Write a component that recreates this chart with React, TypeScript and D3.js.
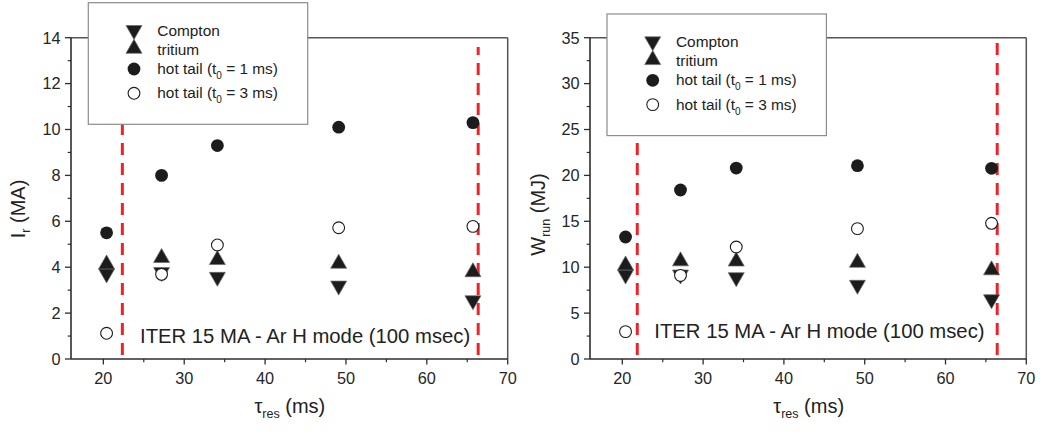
import React from "react";
import * as d3 from "d3";

// Resonance times (ms) at which the simulations were run
const tauRes = [20.4, 27.2, 34.1, 49.1, 65.7];

// Runaway current I_r (MA)
const currentCompton = [3.62, 3.68, 3.47, 3.09, 2.45];
const currentTritium = [4.23, 4.51, 4.42, 4.26, 3.89];
const currentHotTail1 = [5.5, 8.0, 9.3, 10.1, 10.3];
const currentHotTail3 = [1.12, 3.69, 4.97, 5.72, 5.78];

// Runaway energy W_run (MJ)
const energyCompton = [8.93, 8.93, 8.64, 7.81, 6.24];
const energyTritium = [10.46, 10.91, 10.89, 10.75, 9.93];
const energyHotTail1 = [13.29, 18.41, 20.8, 21.06, 20.77];
const energyHotTail3 = [2.98, 9.11, 12.2, 14.2, 14.78];

// Vertical limit markers (tau_res, ms)
const currentLimits = [22.35, 66.35];
const energyLimits = [21.85, 66.4];

// Axis ticks
const xDomain = [16, 70];
const xTicks = [20, 30, 40, 50, 60, 70];
const xMinorTicks = [25, 35, 45, 55, 65];
const currentTicks = [0, 2, 4, 6, 8, 10, 12, 14];
const currentMinorTicks = [1, 3, 5, 7, 9, 11, 13];
const energyTicks = [0, 5, 10, 15, 20, 25, 30, 35];
const energyMinorTicks = [2.5, 7.5, 12.5, 17.5, 22.5, 27.5, 32.5];

// Legend entries
const legendKinds = ["down", "up", "filled", "open"];
const legendMain = ["Compton", "tritium", "hot tail (t", "hot tail (t"];
const legendSub = ["", "", "0", "0"];
const legendTail = ["", "", " = 1 ms)", " = 3 ms)"];

const noteText = "ITER 15 MA - Ar H mode (100 msec)";

const FONT = "'Liberation Sans', Arial, Helvetica, sans-serif";
const INK = "#1c1c1c";
const RED = "#ee2229";

const TRI_W = 16;
const TRI_H = 14;
const CIRC_R = 6.4;

function triPath(cx: number, cy: number, up: boolean) {
  const p = d3.path();
  const h = TRI_H / 2;
  const w = TRI_W / 2;
  if (up) {
    p.moveTo(cx, cy - h);
    p.lineTo(cx + w, cy + h);
    p.lineTo(cx - w, cy + h);
  } else {
    p.moveTo(cx, cy + h);
    p.lineTo(cx + w, cy - h);
    p.lineTo(cx - w, cy - h);
  }
  p.closePath();
  return p.toString();
}

function Marker({ kind, cx, cy }: { kind: string; cx: number; cy: number }) {
  if (kind === "up" || kind === "down") {
    return <path d={triPath(cx, cy, kind === "up")} fill={INK} stroke="#6a6a6a" strokeWidth={0.7} />;
  }
  if (kind === "filled") return <circle cx={cx} cy={cy} r={CIRC_R} fill={INK} />;
  return <circle cx={cx} cy={cy} r={CIRC_R - 0.5} fill="#fff" stroke={INK} strokeWidth={1.1} />;
}

type PanelProps = {
  x0: number;
  x1: number;
  y0: number;
  y1: number;
  yMax: number;
  yTicks: number[];
  yMinor: number[];
  series: { kind: string; values: number[] }[];
  limits: number[];
  limitTop: number;
  legendX: number;
  legendY: number;
  yTitleMain: string;
  yTitleSub: string;
  yTitleRest: string;
  yTitleX: number;
  yTitleY: number;
  noteX: number;
  noteY: number;
};

function Panel(props: PanelProps) {
  const { x0, x1, y0, y1, yMax } = props;
  const x = d3.scaleLinear().domain(xDomain).range([x0, x1]);
  const y = d3.scaleLinear().domain([0, yMax]).range([y1, y0]);
  const axisColor = "#2e2e2e";
  const legendW = 219.4;
  const legendH = 121.6;
  const rowBase = [33, 52.3, 71.3, 95.6];
  const symY = [29.8, 43.6, 66.3, 90.6];

  return (
    <g fontFamily={FONT}>
      {/* frame: top and right */}
      <line x1={x0} x2={x1} y1={y0} y2={y0} stroke="#555" strokeWidth={1.5} />
      <line x1={x1} x2={x1} y1={y0} y2={y1} stroke="#555" strokeWidth={1.5} />

      {/* limit lines */}
      {props.limits.map((v, i) => (
        <line
          key={"lim" + i}
          x1={x(v)}
          x2={x(v)}
          y1={y(0)}
          y2={y(props.limitTop)}
          stroke={RED}
          strokeWidth={3}
          strokeDasharray="12 8"
          strokeDashoffset={16}
        />
      ))}

      {/* data */}
      {props.series.map((s, si) =>
        s.values.map((v, i) => (
          <Marker key={"m" + si + "-" + i} kind={s.kind} cx={x(tauRes[i])} cy={y(v)} />
        ))
      )}

      {/* bottom axis */}
      <line x1={x0} x2={x1} y1={y1} y2={y1} stroke={axisColor} strokeWidth={1.6} />
      {xTicks.map((t) => (
        <g key={"xt" + t}>
          <line x1={x(t)} x2={x(t)} y1={y1} y2={y1 + 5.5} stroke={axisColor} strokeWidth={1.3} />
          <text x={x(t)} y={y1 + 25} textAnchor="middle" fontSize={16.3} fill="#262626">
            {t}
          </text>
        </g>
      ))}
      {xMinorTicks.map((t) => (
        <line key={"xm" + t} x1={x(t)} x2={x(t)} y1={y1} y2={y1 + 3.2} stroke={axisColor} strokeWidth={1.2} />
      ))}

      {/* left axis */}
      <line x1={x0} x2={x0} y1={y0} y2={y1} stroke={axisColor} strokeWidth={1.6} />
      {props.yTicks.map((t) => (
        <g key={"yt" + t}>
          <line x1={x0 - 6} x2={x0} y1={y(t)} y2={y(t)} stroke={axisColor} strokeWidth={1.3} />
          <text x={x0 - 10.5} y={y(t)} dy="0.36em" textAnchor="end" fontSize={16.3} fill="#262626">
            {t}
          </text>
        </g>
      ))}
      {props.yMinor.map((t) => (
        <line key={"ym" + t} x1={x0 - 3.3} x2={x0} y1={y(t)} y2={y(t)} stroke={axisColor} strokeWidth={1.2} />
      ))}

      {/* axis titles */}
      <text x={(x0 + x1) / 2 + 0.5} y={413} textAnchor="middle" fontSize={20} fill="#222">
        <tspan>τ</tspan>
        <tspan dy={5} fontSize={12.5}>res</tspan>
        <tspan dy={-5}> (ms)</tspan>
      </text>
      <text
        transform={`translate(${props.yTitleX},${props.yTitleY}) rotate(-90)`}
        textAnchor="middle"
        fontSize={20}
        fill="#222"
      >
        <tspan>{props.yTitleMain}</tspan>
        <tspan dy={5} fontSize={12.5}>{props.yTitleSub}</tspan>
        <tspan dy={-5}>{props.yTitleRest}</tspan>
      </text>

      {/* annotation */}
      <text x={props.noteX} y={props.noteY} fontSize={20.3} fill="#222">
        {noteText}
      </text>

      {/* legend */}
      <rect
        x={props.legendX}
        y={props.legendY}
        width={legendW}
        height={legendH}
        fill="#fff"
        stroke="#8c8c8c"
        strokeWidth={1.2}
      />
      {legendKinds.map((k, i) => (
        <g key={"lg" + i}>
          <Marker kind={k} cx={props.legendX + 45.7} cy={props.legendY + symY[i]} />
          <text x={props.legendX + 69} y={props.legendY + rowBase[i]} fontSize={15.4} fill="#222">
            <tspan>{legendMain[i]}</tspan>
            {legendSub[i] ? (
              <>
                <tspan dy={5} fontSize={10}>{legendSub[i]}</tspan>
                <tspan dy={-5}>{legendTail[i]}</tspan>
              </>
            ) : null}
          </text>
        </g>
      ))}
    </g>
  );
}

export default function App() {
  const currentSeries = [
    { kind: "down", values: currentCompton },
    { kind: "up", values: currentTritium },
    { kind: "filled", values: currentHotTail1 },
    { kind: "open", values: currentHotTail3 },
  ];
  const energySeries = [
    { kind: "down", values: energyCompton },
    { kind: "up", values: energyTritium },
    { kind: "filled", values: energyHotTail1 },
    { kind: "open", values: energyHotTail3 },
  ];
  return (
    <div style={{ position: "absolute", left: 0, top: 0 }}>
      <svg width={1040} height={432} viewBox="0 0 1040 432" style={{ display: "block", background: "#fff" }}>
        <Panel
          x0={71}
          x1={507.7}
          y0={37.7}
          y1={359}
          yMax={14}
          yTicks={currentTicks}
          yMinor={currentMinorTicks}
          series={currentSeries}
          limits={currentLimits}
          limitTop={13.6}
          legendX={88.3}
          legendY={2.7}
          yTitleMain="I"
          yTitleSub="r"
          yTitleRest=" (MA)"
          yTitleX={25}
          yTitleY={209}
          noteX={140}
          noteY={342.7}
        />
        <Panel
          x0={590}
          x1={1026.3}
          y0={37.7}
          y1={359}
          yMax={35}
          yTicks={energyTicks}
          yMinor={energyMinorTicks}
          series={energySeries}
          limits={energyLimits}
          limitTop={35}
          legendX={607}
          legendY={14}
          yTitleMain="W"
          yTitleSub="run"
          yTitleRest=" (MJ)"
          yTitleX={545}
          yTitleY={214.5}
          noteX={654.3}
          noteY={337.7}
        />
      </svg>
    </div>
  );
}
